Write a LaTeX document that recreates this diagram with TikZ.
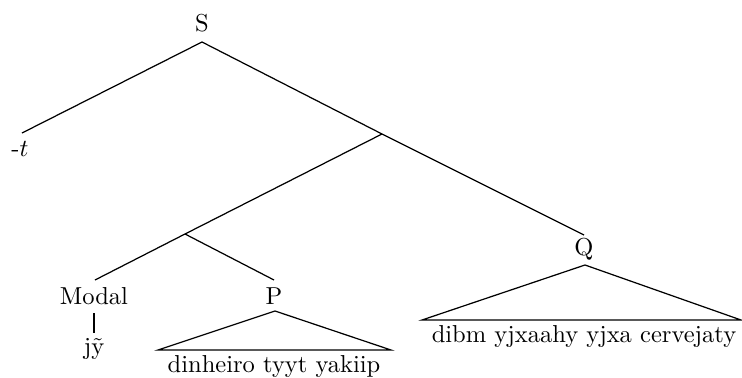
\documentclass[tikz,border=0pt]{standalone}
\begin{document}
\begin{tikzpicture}[x=0.408pt,y=-0.408pt,
  lbl/.style={inner sep=0pt, font=\fontsize{10pt}{12pt}\selectfont},
  edge/.style={line width=0.5pt}]
\useasboundingbox (0,0) rectangle (742,378);
% labels
\node[lbl] (S) at (202,23) {S};
\node[lbl] (t) at (20,149) {-$t$};
\node[lbl] (Modal) at (94,296) {Modal};
\node[lbl] (jy) at (94,349) {j\~{y}};
\node[lbl] (P) at (274,296) {P};
\node[lbl] (Pw) at (274,367) {dinheiro tyyt yakiip};
\node[lbl] (Q) at (584,249) {Q};
\node[lbl] (Qw) at (584,337) {dibm yjxaahy yjxa cervejaty};
% branch points
\coordinate (Stop) at (202,42);
\coordinate (tEnd) at (22,133);
\coordinate (X) at (382,134);
\coordinate (Y) at (185,234);
\coordinate (ModalTop) at (95,280);
\coordinate (PTop) at (274,280);
\coordinate (QTop) at (584,235);
\coordinate (ModalBot) at (94,313);
\coordinate (jyTop) at (94,333);
\coordinate (Papex) at (275,311);
\coordinate (PL) at (158,350);
\coordinate (PR) at (391,350);
\coordinate (Qapex) at (585,265);
\coordinate (QL) at (422,320);
\coordinate (QR) at (741,320);
% tree
\draw[edge] (tEnd) -- (Stop) -- (X) -- (QTop);
\draw[edge] (X) -- (Y) -- (ModalTop);
\draw[edge] (Y) -- (PTop);
\draw[edge] (ModalBot) -- (jyTop);
\draw[edge] (Papex) -- (PL) -- (PR) -- cycle;
\draw[edge] (Qapex) -- (QL) -- (QR) -- cycle;
\end{tikzpicture}
\end{document}
